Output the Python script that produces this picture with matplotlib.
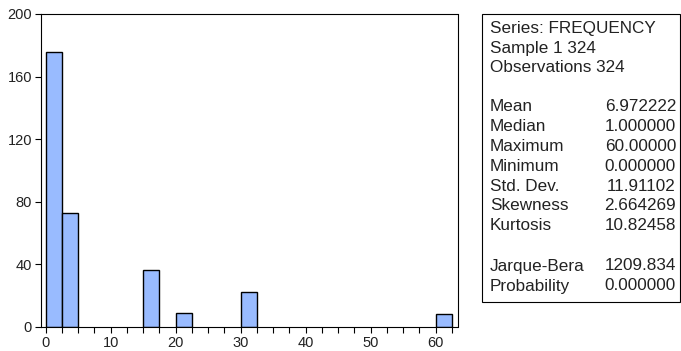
import matplotlib.pyplot as plt
from matplotlib.patches import Rectangle
import numpy as np

# histogram bins (left edges) and counts
bin_left = [0.0, 2.5, 15.0, 20.0, 30.0, 60.0]
counts = [176, 73, 36, 9, 22, 8]
bin_width = 2.5

header = ["Series: FREQUENCY", "Sample 1 324", "Observations 324"]
stat_names = ["Mean", "Median", "Maximum", "Minimum", "Std. Dev.", "Skewness", "Kurtosis"]
stat_values = ["6.972222", "1.000000", "60.00000", "0.000000", "11.91102", "2.664269", "10.82458"]
test_names = ["Jarque-Bera", "Probability"]
test_values = ["1209.834", "0.000000"]

plt.rcParams['font.family'] = ['Liberation Sans', 'DejaVu Sans']

W, H = 681, 351
fig = plt.figure(figsize=(W / 100, H / 100), dpi=100)
ax = fig.add_axes([41 / W, 1 - 326.7 / H, (457.5 - 41) / W, (326.7 - 14) / H])

ax.bar(bin_left, counts, width=bin_width, align='edge',
       color='#99bbff', edgecolor='black', linewidth=1.0)

ax.set_xlim(-0.72, 63.35)
ax.set_ylim(0, 200)
ax.set_yticks(np.arange(0, 201, 40))
ax.set_xticks(np.arange(0, 61, 10))
ax.set_xticks(np.arange(0, 63, 2.5), minor=True)
ax.tick_params(axis='both', which='both', direction='out', length=4.5, width=0.8,
               labelsize=10.5, color='black', labelcolor='#222222', pad=2)
for s in ax.spines.values():
    s.set_linewidth(0.8)

# stats panel
fig.patches.append(Rectangle((482 / W, 1 - 302 / H), (680 - 482) / W, (302 - 14) / H,
                             transform=fig.transFigure, fill=False,
                             edgecolor='black', linewidth=0.8))

def put(y, left, right=None):
    fig.text(490 / W, 1 - y / H, left, fontsize=12.3, va='center', ha='left', color='#222222')
    if right is not None:
        fig.text(676 / W, 1 - y / H, right, fontsize=12.3, va='center', ha='right', color='#222222')

for i, t in enumerate(header):
    put(28 + 20 * i, t)
for i, (n, v) in enumerate(zip(stat_names, stat_values)):
    put(107 + 19.8 * i, n, v)
for i, (n, v) in enumerate(zip(test_names, test_values)):
    put(266 + 20 * i, n, v)

fig.savefig('out.png', dpi=100)
